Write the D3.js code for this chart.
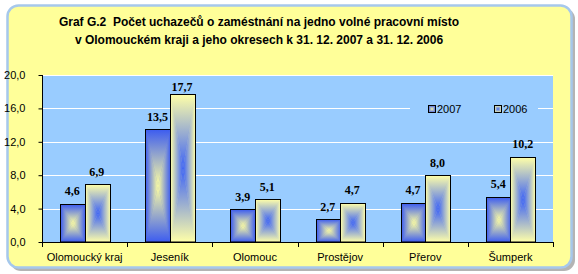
<html>
<head>
<script src="https://d3js.org/d3.v7.min.js"></script>
<style>
body { margin: 0; background: #fff; }
svg text { font-family: Arial, 'Liberation Sans', sans-serif; }
</style>
</head>
<body>
<div id="chart"></div>
<script>

// data
var regions = ["Olomoucký kraj", "Jeseník", "Olomouc", "Prostějov", "Přerov", "Šumperk"];
var series = ["2007", "2006"];
var values2007 = [4.6, 13.5, 3.9, 2.7, 4.7, 5.4];
var values2006 = [6.9, 17.7, 5.1, 4.7, 8.0, 10.2];
var yTicks = [0, 4, 8, 12, 16, 20];
var titleLines = ["Graf G.2  Počet uchazečů o zaméstnání na jedno volné pracovní místo",
                  "v Olomouckém kraji a jeho okresech k 31. 12. 2007 a 31. 12. 2006"];

var W = 578, H = 274;
var pLeft = 42, pRight = 553, pTop = 75, pBottom = 242;

// edge colour / centre colour of each series fill
var fills = {
  "2007": { edge: "#3c5cf0", mid: "#ffffa0" },
  "2006": { edge: "#ffffa8", mid: "#3c62f6" }
};

var svg = d3.select("#chart").append("svg").attr("width", W).attr("height", H);
var defs = svg.append("defs");

// gradients for the 4 triangles of a rectangular "from centre" fill
var dirs = {
  t: [0, 0, 0, 1, true],  // edge -> centre
  b: [0, 0, 0, 1, false], // centre -> edge
  l: [0, 0, 1, 0, true],
  r: [0, 0, 1, 0, false]
};
series.forEach(function(s) {
  Object.keys(dirs).forEach(function(k) {
    var d = dirs[k];
    var g = defs.append("linearGradient").attr("id", "g" + s + k)
      .attr("x1", d[0]).attr("y1", d[1]).attr("x2", d[2]).attr("y2", d[3]);
    g.append("stop").attr("offset", 0).attr("stop-color", d[4] ? fills[s].edge : fills[s].mid);
    g.append("stop").attr("offset", 1).attr("stop-color", d[4] ? fills[s].mid : fills[s].edge);
  });
});

// outer frame with shadow
svg.append("rect").attr("x", 10).attr("y", 8).attr("width", 565).attr("height", 263)
  .attr("rx", 11).attr("fill", "#b4b4b4");
svg.append("rect").attr("x", 7.5).attr("y", 5.5).attr("width", 564).attr("height", 262)
  .attr("rx", 11).attr("fill", "#ffff99").attr("stroke", "#a6c8ec").attr("stroke-width", 2.5);

// title
svg.selectAll(".title").data(titleLines).enter().append("text")
  .attr("class", "title")
  .attr("x", 259).attr("y", function(d, i) { return 26 + i * 18; })
  .attr("text-anchor", "middle")
  .style("font-size", "12px").style("font-weight", "bold").style("white-space", "pre")
  .text(function(d) { return d; });

// scales
var x = d3.scaleBand().domain(regions).range([pLeft, pRight]);
var bw = x.bandwidth();
var xs = d3.scaleBand().domain(series).range([(bw - 49) / 2, (bw + 49) / 2]);
var y = d3.scaleLinear().domain([0, 20]).range([pBottom, pTop]);

// plot area
svg.append("rect").attr("x", pLeft).attr("y", pTop)
  .attr("width", pRight - pLeft).attr("height", pBottom - pTop).attr("fill", "#99ccff");

svg.selectAll(".grid").data(yTicks.slice(1)).enter().append("line")
  .attr("class", "grid")
  .attr("x1", pLeft).attr("x2", pRight)
  .attr("y1", function(d) { return Math.round(y(d)) + 0.5; })
  .attr("y2", function(d) { return Math.round(y(d)) + 0.5; })
  .attr("stroke", "#ffffff").attr("stroke-width", 1);

// legend sits on a box of plot colour which hides the gridline
svg.append("rect").attr("x", 410).attr("y", 98).attr("width", 128).attr("height", 20).attr("fill", "#99ccff");

function fillBar(g, s, x0, y0, w, h) {
  var cx = x0 + w / 2, cy = y0 + h / 2;
  g.append("rect").attr("x", x0).attr("y", y0).attr("width", w).attr("height", h).attr("fill", fills[s].edge);
  var tris = [
    ["t", [[x0, y0], [x0 + w, y0], [cx, cy]]],
    ["b", [[x0, y0 + h], [x0 + w, y0 + h], [cx, cy]]],
    ["l", [[x0, y0], [x0, y0 + h], [cx, cy]]],
    ["r", [[x0 + w, y0], [x0 + w, y0 + h], [cx, cy]]]
  ];
  tris.forEach(function(t) {
    g.append("polygon").attr("points", t[1].map(function(p) { return p.join(","); }).join(" "))
      .attr("fill", "url(#g" + s + t[0] + ")")
      .attr("stroke", "url(#g" + s + t[0] + ")").attr("stroke-width", 0.4);
  });
  g.append("rect").attr("x", x0).attr("y", y0).attr("width", w).attr("height", h)
    .attr("fill", "none").attr("stroke", "#000").attr("stroke-width", 1);
}

var fmt = function(v) { return d3.format(".1f")(v).replace(".", ","); };

var bars = [];
regions.forEach(function(r, i) {
  bars.push({ region: r, s: "2007", v: values2007[i] });
  bars.push({ region: r, s: "2006", v: values2006[i] });
});

var barG = svg.append("g");
bars.forEach(function(d) {
  var x0 = Math.round(x(d.region) + xs(d.s)) + 0.5;
  var y0 = Math.round(y(d.v)) + 0.5;
  fillBar(barG, d.s, x0, y0, Math.round(xs.bandwidth()), pBottom - y0);
});

svg.selectAll(".val").data(bars).enter().append("text")
  .attr("class", "val")
  .attr("x", function(d) { return x(d.region) + xs(d.s) + xs.bandwidth() / 2; })
  .attr("y", function(d) { return Math.max(y(d.v) - 8.5, pTop + 16); })
  .attr("text-anchor", "middle")
  .style("font-family", "'Liberation Serif', 'Times New Roman', serif")
  .style("font-size", "12px").style("font-weight", "bold")
  .text(function(d) { return fmt(d.v); });

// axes
var yAxis = svg.append("g").attr("transform", "translate(" + (pLeft + 0.5) + ",0)")
  .call(d3.axisLeft(y).tickValues(yTicks).tickSize(4).tickPadding(13).tickFormat(fmt));
var xAxis = svg.append("g").attr("transform", "translate(0," + (pBottom + 0.5) + ")")
  .call(d3.axisBottom(x).tickSize(0).tickPadding(11));
svg.append("g").selectAll("line").data(d3.range(regions.length + 1)).enter().append("line")
  .attr("x1", function(i) { return Math.round(pLeft + i * bw) + 0.5; })
  .attr("x2", function(i) { return Math.round(pLeft + i * bw) + 0.5; })
  .attr("y1", pBottom).attr("y2", pBottom + 5).attr("stroke", "#000");
[yAxis, xAxis].forEach(function(a) {
  a.select(".domain").attr("stroke", "#000");
  a.selectAll("text").style("font-size", "11px").style("font-family", "Arial, 'Liberation Sans', sans-serif").attr("fill", "#000");
});
yAxis.select(".domain").attr("d", "M0," + pTop + "V" + pBottom);
xAxis.select(".domain").attr("d", "M" + pLeft + ",0H" + pRight);

// legend
var leg = svg.append("g");
series.forEach(function(s, i) {
  var lx = 428 + i * 66;
  fillBar(leg, s, lx + 0.5, 105.5, 7, 7);
  leg.append("text").attr("x", lx + 9).attr("y", 113)
    .style("font-size", "11px").text(s);
});

</script>
</body>
</html>
